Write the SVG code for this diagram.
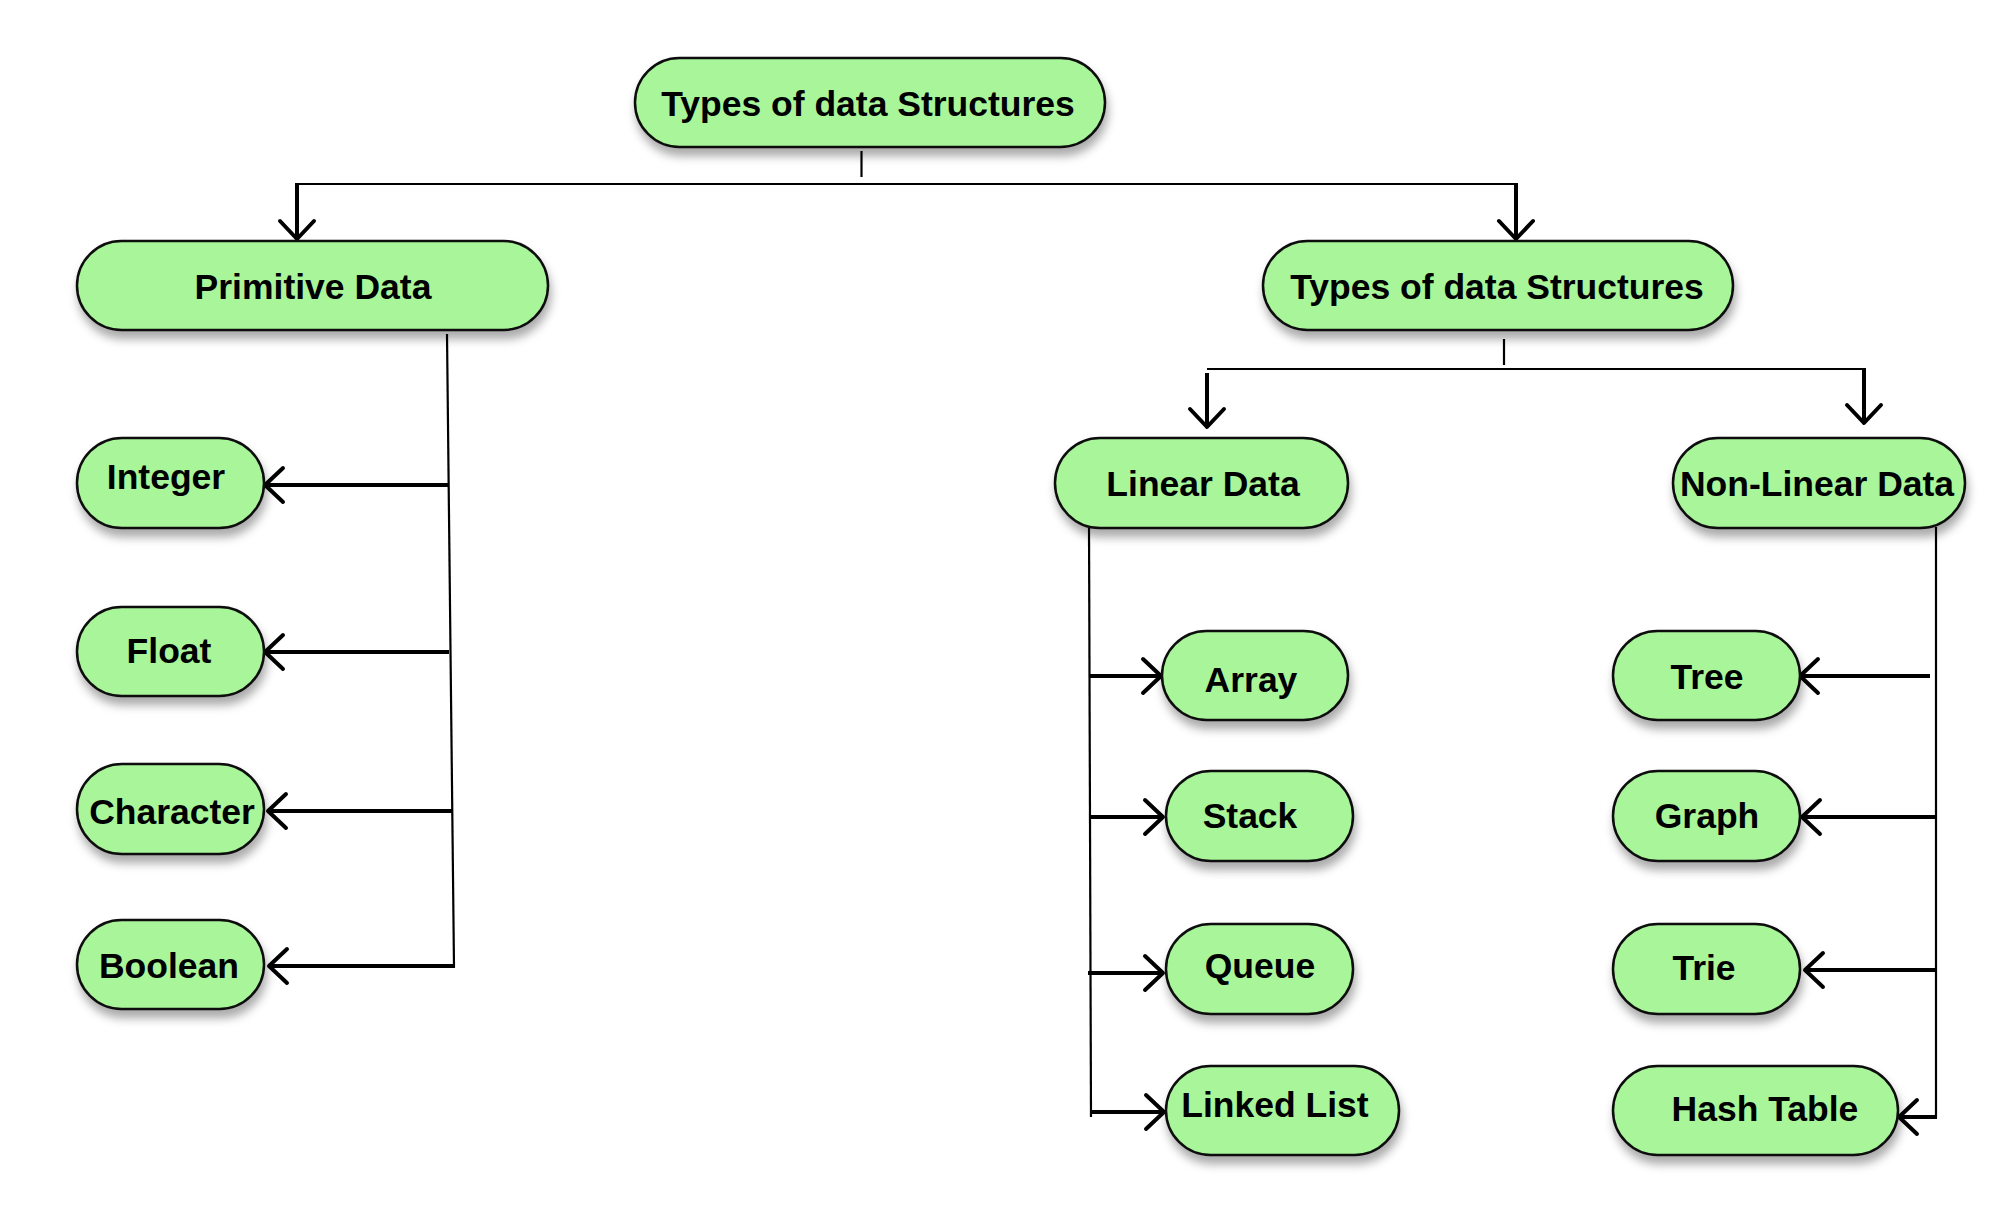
<svg xmlns="http://www.w3.org/2000/svg" width="2012" height="1224" viewBox="0 0 2012 1224">
<style>
.node rect{fill:#a8f59a;stroke:#111;stroke-width:2.5;filter:url(#sh)}
.node text{font-family:"Liberation Sans",Arial,sans-serif;font-weight:bold;font-size:35.5px;fill:#000;text-anchor:middle}
.thin{stroke:#000;stroke-width:2.2;fill:none}
.arr{stroke:#000;stroke-width:4;fill:none;marker-end:url(#ah)}
</style>
<defs>
<filter id="sh" x="-20%" y="-30%" width="140%" height="170%">
<feDropShadow dx="2" dy="8" stdDeviation="5" flood-color="#000" flood-opacity="0.33"/>
</filter>
<marker id="ah" markerUnits="userSpaceOnUse" viewBox="-22 -22 44 44" markerWidth="44" markerHeight="44" refX="0" refY="0" orient="auto">
<path d="M-18,-17 L0,0 L-18,17" fill="none" stroke="#000" stroke-width="4" stroke-linecap="round" stroke-linejoin="round"/>
</marker>
</defs>
<rect width="2012" height="1224" fill="#fff"/>
<g id="connectors">
<line class="thin" x1="861.5" y1="151" x2="861.5" y2="177"/>
<path class="thin" d="M297,184 H1516"/>
<line class="arr" x1="297" y1="183" x2="297" y2="239"/>
<line class="arr" x1="1516" y1="183" x2="1516" y2="239"/>
<line class="thin" x1="1504" y1="339" x2="1504" y2="365"/>
<path class="thin" d="M1207,369 H1864"/>
<line class="arr" x1="1207" y1="373" x2="1207" y2="427"/>
<line class="arr" x1="1864" y1="368" x2="1864" y2="423"/>
<line class="thin" x1="447" y1="334" x2="454" y2="967"/>
<line class="arr" x1="448" y1="485" x2="265" y2="485"/>
<line class="arr" x1="449" y1="652" x2="265" y2="652"/>
<line class="arr" x1="452" y1="811" x2="268" y2="811"/>
<line class="arr" x1="455" y1="966" x2="269" y2="966"/>
<line class="thin" x1="1089" y1="525" x2="1091" y2="1117"/>
<line class="arr" x1="1089" y1="676" x2="1161" y2="676"/>
<line class="arr" x1="1089" y1="817" x2="1163" y2="817"/>
<line class="arr" x1="1088" y1="973" x2="1163" y2="973"/>
<line class="arr" x1="1090" y1="1112" x2="1164" y2="1112"/>
<line class="thin" x1="1936" y1="527" x2="1936" y2="1118"/>
<line class="arr" x1="1930" y1="676" x2="1800" y2="676"/>
<line class="arr" x1="1937" y1="817" x2="1802" y2="817"/>
<line class="arr" x1="1937" y1="970" x2="1805" y2="970"/>
<line class="arr" x1="1937" y1="1117" x2="1899" y2="1117"/>
</g>
<g id="root" class="node"><rect x="635" y="58" width="470" height="89" rx="44.5"/><text x="868" y="116">Types of data Structures</text></g>
<g id="types2" class="node"><rect x="1263" y="241" width="470" height="89" rx="44.5"/><text x="1497" y="299">Types of data Structures</text></g>
<g id="primitive" class="node"><rect x="77" y="241" width="471" height="89" rx="44.5"/><text x="313" y="299">Primitive Data</text></g>
<g id="integer" class="node"><rect x="77" y="438" width="187" height="90" rx="45"/><text x="166" y="489">Integer</text></g>
<g id="float" class="node"><rect x="77" y="607" width="187" height="89" rx="44.5"/><text x="169" y="663">Float</text></g>
<g id="character" class="node"><rect x="77" y="764" width="187" height="90" rx="45"/><text x="172" y="824">Character</text></g>
<g id="boolean" class="node"><rect x="77" y="920" width="187" height="89" rx="44.5"/><text x="169" y="978">Boolean</text></g>
<g id="linear" class="node"><rect x="1055" y="438" width="293" height="90" rx="45"/><text x="1203" y="496">Linear Data</text></g>
<g id="nonlinear" class="node"><rect x="1673" y="438" width="292" height="90" rx="45"/><text x="1817" y="496">Non-Linear Data</text></g>
<g id="array" class="node"><rect x="1162" y="631" width="186" height="89" rx="44.5"/><text x="1251" y="692">Array</text></g>
<g id="stack" class="node"><rect x="1166" y="771" width="187" height="90" rx="45"/><text x="1250" y="828">Stack</text></g>
<g id="queue" class="node"><rect x="1166" y="924" width="187" height="90" rx="45"/><text x="1260" y="978">Queue</text></g>
<g id="linkedlist" class="node"><rect x="1166" y="1066" width="233" height="89" rx="44.5"/><text x="1275" y="1117">Linked List</text></g>
<g id="tree" class="node"><rect x="1613" y="631" width="187" height="89" rx="44.5"/><text x="1707" y="689">Tree</text></g>
<g id="graph" class="node"><rect x="1613" y="771" width="187" height="90" rx="45"/><text x="1707" y="828">Graph</text></g>
<g id="trie" class="node"><rect x="1613" y="924" width="187" height="90" rx="45"/><text x="1704" y="980">Trie</text></g>
<g id="hashtable" class="node"><rect x="1613" y="1066" width="285" height="89" rx="44.5"/><text x="1765" y="1121">Hash Table</text></g>
</svg>
